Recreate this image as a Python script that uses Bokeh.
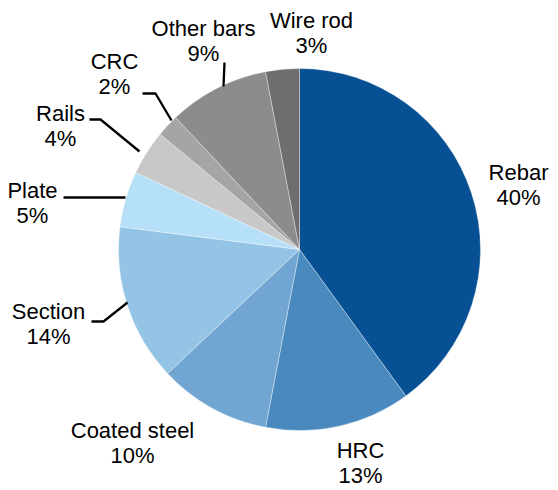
import numpy as np
from bokeh.plotting import figure
from bokeh.models import Range1d, ColumnDataSource
from bokeh.core.properties import value
from bokeh.embed import file_html
from bokeh.resources import INLINE

# ---- data ----
categories = ["Rebar", "HRC", "Coated steel", "Section", "Plate", "Rails", "CRC", "Other bars", "Wire rod"]
shares = [40, 13, 10, 14, 5, 4, 2, 9, 3]
colors = ["#065093", "#4A89BE", "#70A6D1", "#93C3E5", "#B6E0F8", "#C8C8C8", "#A5A5A5", "#8C8C8C", "#6E6E6E"]

# ---- layout (screen px, y measured from top) ----
W, H = 558, 490
center = (299, 249)
radius = 181
label_pos = {
    "Rebar": (518, 172),
    "HRC": (360, 450),
    "Coated steel": (132, 430),
    "Section": (48, 311),
    "Plate": (32, 190),
    "Rails": (60, 113),
    "CRC": (114, 61),
    "Other bars": (203, 28),
    "Wire rod": (311, 20),
}
line_gap = 25
leaders = {
    "Other bars": [(224, 62), (223, 86)],
    "CRC": [(142, 93), (155, 93), (171, 120)],
    "Rails": [(89, 119), (100, 119), (139, 151)],
    "Plate": [(63, 197), (125, 197)],
    "Section": [(91, 321), (103, 321), (127, 302)],
}


def sy(y):
    return H - y


vals = np.array(shares, dtype=float)
frac = vals / vals.sum()
cum_end = np.cumsum(frac)
cum_start = cum_end - frac
start_angle = np.pi / 2 - 2 * np.pi * cum_start
end_angle = np.pi / 2 - 2 * np.pi * cum_end

src = ColumnDataSource(dict(cat=categories, share=shares, color=colors,
                            start=start_angle, end=end_angle))

p = figure(width=W, height=H, x_range=Range1d(0, W), y_range=Range1d(0, H),
           output_backend="svg", toolbar_location=None,
           x_axis_location=None, y_axis_location=None,
           min_border=0, min_border_left=0, min_border_right=0,
           min_border_top=0, min_border_bottom=0)
p.grid.visible = False
p.outline_line_color = None
p.background_fill_color = "white"
p.border_fill_color = "white"

p.wedge(x=center[0], y=sy(center[1]), radius=radius,
        start_angle="start", end_angle="end", direction="clock",
        fill_color="color", line_color="white", line_width=1, line_alpha=0.35,
        source=src)

# leader lines
for cat, pts in leaders.items():
    xs = [pt[0] for pt in pts]
    ys = [sy(pt[1]) for pt in pts]
    p.line(xs, ys, line_color="black", line_width=2.3)

# labels
name_x = [label_pos[c][0] for c in categories]
name_y = [sy(label_pos[c][1]) for c in categories]
pct_y = [sy(label_pos[c][1] + line_gap) for c in categories]
pct_txt = [f"{s}%" for s in shares]

font = value("Liberation Sans")
p.text(x=name_x, y=name_y, text=categories, text_font=font, text_font_size="22px",
       text_align="center", text_baseline="middle", text_color="black")
p.text(x=name_x, y=pct_y, text=pct_txt, text_font=font, text_font_size="22px",
       text_align="center", text_baseline="middle", text_color="black")

open("out.html", "w").write(file_html(p, INLINE))
